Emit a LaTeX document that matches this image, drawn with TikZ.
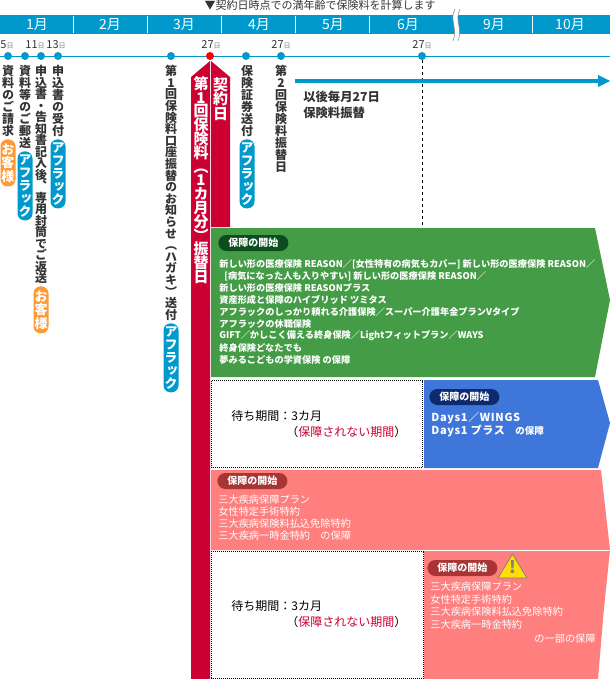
\documentclass[tikz,border=0pt]{standalone}
\usepackage{fontspec}
\setmainfont{Noto Sans CJK JP}
\newfontfamily\vertfont[RawFeature=+vert]{Noto Sans CJK JP}
\usetikzlibrary{positioning,calc}
\definecolor{sky}{HTML}{0099CC}
\definecolor{crim}{HTML}{CC0033}
\definecolor{grass}{HTML}{449C46}
\definecolor{grassdk}{HTML}{0B4D1E}
\definecolor{azure}{HTML}{3F76D9}
\definecolor{navy2}{HTML}{0D2A6E}
\definecolor{salmon2}{HTML}{FF7F7F}
\definecolor{salmondk}{HTML}{A83434}
\definecolor{peach}{HTML}{FF9933}
\definecolor{ink}{HTML}{333333}
% one glyph per line, for the upright columns
\makeatletter
\newcommand{\vtext}[2]{\vbox{\baselineskip=#1pt\lineskiplimit=-100pt\lineskip=0pt\vertfont\@tfor\vch:=#2\do{\hbox to 1em{\hss\vch\hss}}}}
\makeatother
\newcommand{\fs}[1]{\fontsize{#1}{#1}\selectfont}
\newcommand{\daymark}[1]{#1{\fs{7}\color{gray}日}}

\begin{document}
\begin{tikzpicture}
[x=1pt, y=-1pt, line width=0.75pt, >=stealth,
month/.style={text=white, inner sep=0pt, font=\fs{14}},
day/.style={text=ink, inner sep=0pt, font=\fs{11}},
column/.style={anchor=north, text=ink, inner sep=0pt, font=\fs{12}\bfseries},
band/.style={anchor=north, text=white, inner sep=0pt, font=\fs{15}\bfseries},
pill/.style={anchor=north, rectangle, rounded corners=7pt, inner sep=0pt, minimum width=15pt, text=white, font=\fs{13}\bfseries},
starttag/.style={anchor=west, rectangle, rounded corners=8pt, inner sep=0pt, minimum width=70pt, minimum height=16pt, text=white, font=\fs{10}\bfseries},
cover/.style={anchor=west, text=white, inner sep=0pt, font=\fs{9.2}\bfseries},
roomy/.style={anchor=west, text=white, inner sep=0pt, font=\fs{10.2}},
wait/.style={anchor=west, text=black, inner sep=0pt, font=\fs{12}},
gapbox/.style={draw=black, fill=white, densely dotted, line width=1pt}]

\useasboundingbox (0,0) rectangle (610,679);

\node[anchor=center, inner sep=0pt, text=ink, font=\fs{11}] (agenote) at (320,5) {▼契約日時点での満年齢で保険料を計算します};

% month header
\fill[sky] (0,15) rectangle (610,34);
\foreach \v in {73,147,221,295,369,532} {
  \draw[white, line width=0.8pt] (\v,16) -- (\v,33);
}
\foreach \v/\c in {37/1,110/2,184/3,259/4,333/5,408/6,494/9,570/10} {
  \node[month] (month\c) at (\v,24.5) {\c 月};
}
\fill[white] (455,9) .. controls (449,20) and (458,28) .. (453,41) -- (458,41) .. controls (463,28) and (454,20) .. (460,9) -- cycle;
\draw[gray, line width=0.5pt] (455,9) .. controls (449,20) and (458,28) .. (453,41);
\draw[gray, line width=0.5pt] (460,9) .. controls (454,20) and (463,28) .. (458,41);

% time line
\draw[sky, line width=0.8pt] (0,56) -- (610,56);
\foreach \v in {8,25,41,58,171,246,281,422} {
  \fill[sky] (\v,56) circle (4);
}
\fill[red] (210,56) circle (4);
\node[day] (d5) at (7,45) {\daymark{5}};
\node[day] (d11) at (35,45) {\daymark{11}};
\node[day] (d13) at (56,45) {\daymark{13}};
\node[day] (d27a) at (211,45) {\daymark{27}};
\node[day] (d27b) at (281,45) {\daymark{27}};
\node[day] (d27c) at (422,45) {\daymark{27}};

\draw[dashed, line width=0.7pt] (422,60) -- (422,225);

% red bands
\fill[crim] (210,61) -- (210,679) -- (191,679) -- (191,77) -- cycle;
\fill[crim] (211,61) -- (230,77) -- (230,227) -- (211,227) -- cycle;
\node[band] (firstpay) at (201,76) {\vtext{13.8}{第{\rmfamily 1}回保険料（{\rmfamily 1}カ月分）振替日}};
\node[band] (signday) at (220.5,77) {\vtext{14.5}{契約日}};

% columns
\node[column] (req) at (8,65) {\vtext{12}{資料のご請求}};
\node[column] (mail) at (25,65) {\vtext{12}{資料等のご郵送}};
\node[column] (back) at (41,65) {\vtext{11.5}{申込書・告知書記入後、専用封筒でご返送}};
\node[column] (recv) at (58,65) {\vtext{12}{申込書の受付}};
\node[column] (notice) at (171,65) {\vtext{11.6}{第{\rmfamily 1}回保険料口座振替のお知らせ（ハガキ）送付}};
\node[column] (cert) at (247,65) {\vtext{12}{保険証券送付}};
\node[column] (second) at (281,65) {\vtext{12}{第{\rmfamily 2}回保険料振替日}};

\foreach \v/\p/\c in {25/151/a,58/139/b,171/323/c,247/139/d} {
  \node[pill, fill=sky, minimum height=69pt] (aflac\c) at (\v,\p) {\vtext{13}{アフラック}};
}
\foreach \v/\p/\c in {8/139/a,41/286/b} {
  \node[pill, fill=peach, minimum height=47pt] (client\c) at (\v,\p) {\vtext{13.5}{お客様}};
}

% monthly arrow
\coordinate (monthlyfrom) at (295,81);
\coordinate (monthlyto) at (600,81);
\draw[sky, line width=4pt] (monthlyfrom) -- (monthlyto);
\fill[sky] (598,75) -- (610,81) -- (598,87) -- cycle;
\node[anchor=north west, inner sep=0pt, align=left, text=ink, font=\fontsize{12.3}{16}\selectfont\bfseries] (monthly) at (303,91) {以後毎月27日\\保険料振替};

% green block
\fill[grass] (211,228) -- (595,228) -- (610,300) -- (595,377) -- (211,377) -- cycle;
\node[starttag, fill=grassdk] (tagg) at (218,243) {保障の開始};
\foreach \p/\c/\t in {
  264/1/{新しい形の医療保険 REASON／[女性特有の病気もカバー] 新しい形の医療保険 REASON／},
  288/3/{新しい形の医療保険 REASONプラス},
  300/4/{資産形成と保障のハイブリッド ツミタス},
  312/5/{アフラックのしっかり頼れる介護保険／スーパー介護年金プランVタイプ},
  324/6/{アフラックの休職保険},
  336/7/{GIFT／かしこく備える終身保険／Lightフィットプラン／WAYS},
  348/8/{終身保険どなたでも},
  360/9/{夢みるこどもの学資保険 の保障}} {
  \node[cover] (gline\c) at (219,\p) {\t};
}
\node[cover] (gline2) at (224,276) {[病気になった人も入りやすい] 新しい形の医療保険 REASON／};

% first wait
\draw[gapbox] (211.5,380.5) rectangle (422,467.5);
\node[wait] (wait1) at (231,416) {待ち期間：3カ月};
\node[wait] (none1) at (286,432) {（\textcolor{crim}{保障されない期間}）};

% blue block
\fill[azure] (424,380) -- (598,380) -- (610,423) -- (598,468) -- (424,468) -- cycle;
\node[starttag, fill=navy2] (tagb) at (429,397) {保障の開始};
\node[roomy, font=\fs{11}\bfseries\addfontfeature{LetterSpace=6}] (bline1) at (431,418) {Days1／WINGS};
\node[roomy, font=\fs{11}\bfseries\addfontfeature{LetterSpace=6}] (bline2) at (431,431) {Days1 プラス};
\node[cover, font=\fs{9.5}\bfseries] (bline3) at (515,431) {の保障};

% pink block
\fill[salmon2] (211,470) -- (601,470) -- (610,550) -- (604,608) -- (598,679) -- (424,679) -- (424,550) -- (211,550) -- cycle;
\draw[white, line width=0.7pt] (424,550.5) -- (610,550.5);
\node[starttag, fill=salmondk] (tagp) at (217,481) {保障の開始};
\foreach \p/\c/\t in {500/1/三大疾病保障プラン,512/2/女性特定手術特約,524/3/三大疾病保険料払込免除特約,536/4/三大疾病一時金特約　の保障} {
  \node[roomy] (pline\c) at (218,\p) {\t};
}

% second wait
\draw[gapbox] (211.5,551) rectangle (423.5,678);
\node[wait] (wait2) at (231,606) {待ち期間：3カ月};
\node[wait] (none2) at (286,622) {（\textcolor{crim}{保障されない期間}）};

\node[starttag, fill=salmondk] (tagq) at (427,568) {保障の開始};
\draw[fill=yellow!80!orange, draw=gray, line join=round] (512.5,554) -- (527,578) -- (498,578) -- cycle;
\node[inner sep=0pt, text=gray, font=\fs{17}\bfseries] (warn) at (512.5,567) {!};
\foreach \p/\c/\t in {587/1/三大疾病保障プラン,600/2/女性特定手術特約,612/3/三大疾病保険料払込免除特約,625/4/三大疾病一時金特約} {
  \node[roomy] (qline\c) at (430,\p) {\t};
}
\node[roomy, anchor=east] (qline5) at (596,639) {の一部の保障};
\end{tikzpicture}
\end{document}
